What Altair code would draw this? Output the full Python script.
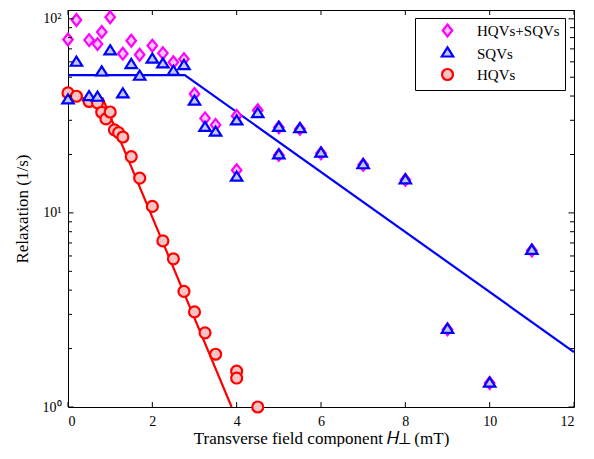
import altair as alt
import pandas as pd

FONT = "Liberation Serif"

# ---- data ----
hqv_x = [0, 0.2, 0.5, 0.7, 0.8, 0.9, 1.0, 1.1, 1.2, 1.3, 1.5, 1.7, 2.0, 2.25, 2.5,
         2.75, 3.0, 3.25, 3.5, 4.0, 4.0, 4.5]
hqv_y = [41.5, 39.9, 37.5, 36.9, 33.0, 30.5, 33.1, 26.8, 25.9, 24.6, 19.5, 15.1, 10.8,
         7.17, 5.80, 3.94, 3.09, 2.41, 1.87, 1.53, 1.41, 1.0]

sqv_x = [0, 0.2, 0.5, 0.7, 0.8, 1.0, 1.3, 1.5, 1.7, 2.0, 2.25, 2.5, 2.75, 3.0, 3.25,
         3.5, 4.0, 4.0, 4.5, 5.0, 5.0, 5.5, 6.0, 7.0, 8.0, 9.0, 10.0, 11.0]
sqv_y = [38.0, 59.4, 39.5, 39.2, 52.9, 68.0, 40.8, 57.8, 50.3, 61.6, 58.2, 53.3, 57.1,
         37.4, 27.4, 25.9, 29.6, 15.2, 32.3, 27.4, 19.8, 27.0, 20.2, 17.6, 14.7, 2.50,
         1.32, 6.38]

both_x = [0, 0.2, 0.5, 0.7, 0.8, 1.0, 1.3, 1.5, 1.7, 2.0, 2.25, 2.5, 2.75, 3.0, 3.25,
          3.5, 4.0, 4.0, 4.5, 5.0, 5.0, 5.5, 6.0, 7.0, 8.0, 9.0, 10.0, 11.0]
both_y = [78.2, 98.6, 77.7, 74.1, 85.5, 101.8, 66.1, 77.1, 65.3, 72.7, 66.5, 59.7, 62.0,
          41.0, 30.7, 28.4, 31.6, 16.6, 33.8, 27.6, 19.9, 27.1, 20.3, 17.7, 14.8, 2.51,
          1.33, 6.40]

sqv_fit_x = [0, 2.77, 12]
sqv_fit_y = [51.3, 51.3, 1.92]
hqv_fit_x = [0, 0.82, 3.88]
hqv_fit_y = [39.0, 39.0, 1.0]

series_names = ["HQVs+SQVs", "SQVs", "HQVs"]
edge_colors = ["#ff00ff", "#0000ff", "#ff0000"]
face_colors = ["#ffc4ff", "#c4c8f0", "#f7c4c4"]

x_ticks = [0, 2, 4, 6, 8, 10, 12]
y_major = [1, 10, 100]
y_minor = [2, 3, 4, 5, 6, 7, 8, 9, 20, 30, 40, 50, 60, 70, 80, 90]

W, H = 506, 397
DIAMOND = "M-0.8,0L0,-1L0.8,0L0,1Z"
TRIANGLE = "M0,-1.07L1,0.53L-1,0.53Z"

points = pd.concat([
    pd.DataFrame({"x": hqv_x, "y": hqv_y, "series": "HQVs"}),
    pd.DataFrame({"x": both_x, "y": both_y, "series": "HQVs+SQVs"}),
    pd.DataFrame({"x": sqv_x, "y": sqv_y, "series": "SQVs"}),
], ignore_index=True)

sqv_fit = pd.DataFrame({"x": sqv_fit_x, "y": sqv_fit_y})
hqv_fit = pd.DataFrame({"x": hqv_fit_x, "y": hqv_fit_y})
xt = pd.DataFrame({"x": x_ticks})
ymaj = pd.DataFrame({"y": y_major})
ymin = pd.DataFrame({"y": y_minor})

xscale = alt.Scale(domain=[0, 12], nice=False, zero=False)
yscale = alt.Scale(type="log", domain=[1, 111], nice=False)

xaxis = alt.Axis(values=x_ticks, title="Transverse field component 𝐻⊥ (mT)",
                 labelPadding=7, titlePadding=2)
yaxis = alt.Axis(values=y_major, title="Relaxation (1/s)",
                 labelExpr="datum.value == 1 ? '10⁰' : datum.value == 10 ? '10¹' : '10²'",
                 labelPadding=7, titlePadding=11)

legend = alt.Legend(title=None, orient="none", legendX=347, legendY=8, padding=5,
                    strokeColor="black", fillColor="white", symbolOffset=20,
                    labelOffset=22, labelFont=FONT, labelFontSize=15, labelColor="black",
                    symbolStrokeWidth=2.2, rowPadding=2, cornerRadius=0)

X = alt.X("x:Q", scale=xscale, axis=xaxis)
Y = alt.Y("y:Q", scale=yscale, axis=yaxis)

line_sqv = alt.Chart(sqv_fit).mark_line(color="#0000ff", strokeWidth=2.2, clip=True).encode(x=X, y=Y)
line_hqv = alt.Chart(hqv_fit).mark_line(color="#ff0000", strokeWidth=2.2, clip=True).encode(x=X, y=Y)

pts = alt.Chart(points).mark_point(filled=True, strokeWidth=2.2, opacity=1).encode(
    x=X, y=Y,
    fill=alt.Fill("series:N", scale=alt.Scale(domain=series_names, range=face_colors), legend=legend),
    stroke=alt.Stroke("series:N", scale=alt.Scale(domain=series_names, range=edge_colors), legend=legend),
    shape=alt.Shape("series:N", scale=alt.Scale(domain=series_names, range=[DIAMOND, TRIANGLE, "circle"]), legend=legend),
    size=alt.Size("series:N", scale=alt.Scale(domain=series_names, range=[140, 120, 85]), legend=legend),
)

tick_style = dict(color="black", strokeWidth=1)
t_bottom = alt.Chart(xt).mark_rule(**tick_style).encode(x=X, y=alt.value(H), y2=alt.value(H - 5))
t_top = alt.Chart(xt).mark_rule(**tick_style).encode(x=X, y=alt.value(0), y2=alt.value(5))
t_left_maj = alt.Chart(ymaj).mark_rule(**tick_style).encode(y=Y, x=alt.value(0), x2=alt.value(5.5))
t_left_min = alt.Chart(ymin).mark_rule(**tick_style).encode(y=Y, x=alt.value(0), x2=alt.value(4))
t_right_maj = alt.Chart(ymaj).mark_rule(**tick_style).encode(y=Y, x=alt.value(W), x2=alt.value(W - 5.5))
t_right_min = alt.Chart(ymin).mark_rule(**tick_style).encode(y=Y, x=alt.value(W), x2=alt.value(W - 4))

chart = alt.layer(
    line_sqv, line_hqv, pts,
    t_bottom, t_top, t_left_maj, t_left_min, t_right_maj, t_right_min,
).properties(
    width=W, height=H,
    autosize=alt.AutoSizeParams(type="none"),
    padding={"left": 60, "top": 2, "right": 12, "bottom": 40},
).configure_view(
    stroke="black", strokeWidth=1
).configure_axis(
    grid=False, domain=False, ticks=False, tickSize=0,
    labelFont=FONT, labelFontSize=14, labelColor="black",
    titleFont=FONT, titleFontSize=17, titleFontWeight="normal", titleColor="black",
)

chart.save("out.html", embed_options={"renderer": "svg", "actions": False})
